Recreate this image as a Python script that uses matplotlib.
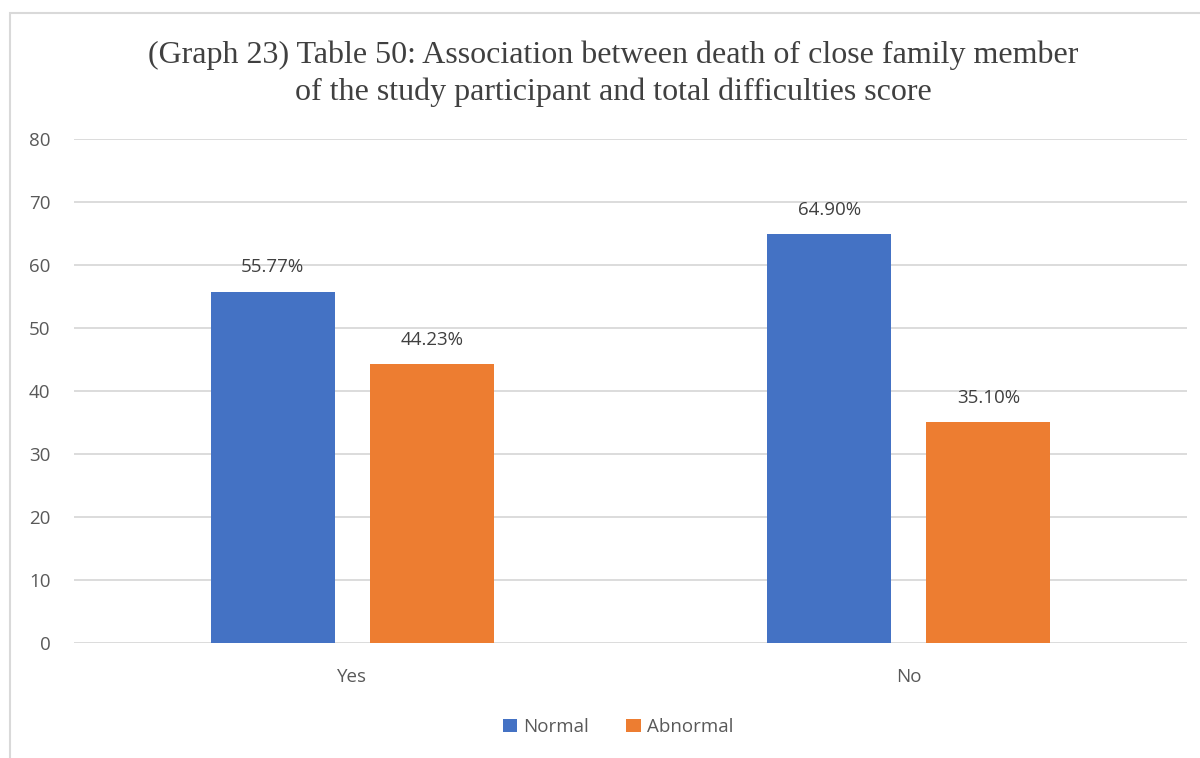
import matplotlib.pyplot as plt
import numpy as np
from matplotlib.patches import Rectangle

categories = ["Yes", "No"]
normal = [55.77, 64.90]
abnormal = [44.23, 35.10]
series_names = ["Normal", "Abnormal"]
colors = ["#4472C4", "#ED7D31"]

title = ("(Graph 23) Table 50: Association between death of close family member\n"
         "of the study participant and total difficulties score")

FONT = "Open Sans"

fig = plt.figure(figsize=(12, 7.58), dpi=100)
ax = fig.add_axes([74 / 1200, 1 - 643 / 758, 1113 / 1200, (643 - 139) / 758])

# chart border like the spreadsheet frame
fig.patches.append(Rectangle((10 / 1200, -0.1), 1.2, 1 - 13 / 758 + 0.1,
                             transform=fig.transFigure, fill=False,
                             edgecolor="#D9D9D9", linewidth=1.5))

x = np.arange(len(categories))
w = 124 / 556.5
gap = 35 / 556.5
off = (w + gap) / 2
for vals, name, c, sgn in zip([normal, abnormal], series_names, colors, [-1, 1]):
    bars = ax.bar(x + sgn * off, vals, width=w, color=c, label=name, zorder=3)
    for b, v in zip(bars, vals):
        ax.annotate(f"{v:.2f}%", (b.get_x() + b.get_width() / 2, v),
                    xytext=(0, 17.5), textcoords="offset points",
                    ha="center", va="center", fontsize=13.5, color="#404040",
                    family=FONT)

ax.set_xlim(-0.5, 1.5)
ax.set_ylim(0, 80)
ax.set_yticks(range(0, 81, 10))
ax.set_xticks(x)
ax.set_xticklabels(categories)
ax.grid(axis="y", color="#D9D9D9", linewidth=1.3, zorder=0)
for s in ax.spines.values():
    s.set_visible(False)
ax.tick_params(length=0, labelsize=13.5, labelcolor="#595959")
ax.tick_params(axis="y", pad=17)
ax.tick_params(axis="x", pad=18)
for lab in ax.get_xticklabels() + ax.get_yticklabels():
    lab.set_family(FONT)

fig.text(0.511, 1 - 73.5 / 758, title, ha="center", va="center",
         fontsize=23, family="Liberation Serif", color="#404040",
         linespacing=1.33)

leg = fig.legend(loc="center", bbox_to_anchor=(0.515, 1 - 727 / 758), ncol=2,
                 frameon=False, handlelength=0.75, handleheight=0.75,
                 handletextpad=0.35, columnspacing=2.0,
                 prop={"family": FONT, "size": 13.5})
for t in leg.get_texts():
    t.set_color("#595959")

fig.savefig("out.png", dpi=100)
